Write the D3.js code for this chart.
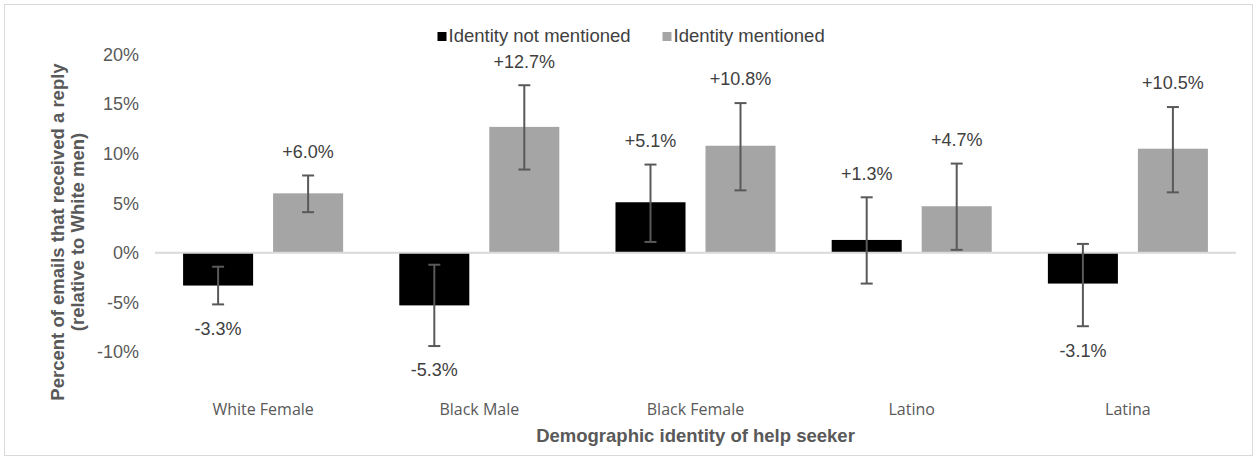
<!DOCTYPE html>
<html>
<head>
<meta charset="utf-8">
<script src="https://cdn.jsdelivr.net/npm/d3@7/dist/d3.min.js"></script>
<style>
  html, body { margin: 0; padding: 0; background: #fff; }
  svg { display: block; }
</style>
</head>
<body>
<svg id="chart" width="1257" height="460"></svg>
<script>
// Reply-rate differences relative to White men, by help-seeker identity
const categories = ["White Female", "Black Male", "Black Female", "Latino", "Latina"];
const seriesNames = ["Identity not mentioned", "Identity mentioned"];
const notMentioned = [-3.3, -5.3, 5.1, 1.3, -3.1];
const mentioned = [6.0, 12.7, 10.8, 4.7, 10.5];
// 95% interval bounds for each bar
const notMentionedLow = [-5.2, -9.4, 1.1, -3.1, -7.4];
const notMentionedHigh = [-1.4, -1.2, 8.9, 5.6, 0.9];
const mentionedLow = [4.1, 8.4, 6.3, 0.3, 6.1];
const mentionedHigh = [7.8, 16.9, 15.1, 9.0, 14.7];
const yTicks = [-10, -5, 0, 5, 10, 15, 20];

const seriesValues = [notMentioned, mentioned];
const seriesLow = [notMentionedLow, mentionedLow];
const seriesHigh = [notMentionedHigh, mentionedHigh];
const seriesColors = ["#000000", "#a5a5a5"];

const svg = d3.select("#chart");
const W = 1257, H = 460;
const plot = { left: 155, right: 1236, top: 54.5, bottom: 352 };
const sans = "Liberation Sans, Arial, Helvetica, sans-serif";

// outer frame
svg.append("rect")
  .attr("x", 4.5).attr("y", 4.5)
  .attr("width", W - 9).attr("height", H - 9)
  .attr("fill", "#fff").attr("stroke", "#d9d9d9").attr("stroke-width", 1);

const x0 = d3.scaleBand().domain(categories).range([plot.left, plot.right]).padding(0);
const x1 = d3.scaleBand().domain(seriesNames).range([0, x0.bandwidth()])
  .paddingInner(0.222).paddingOuter(0.312);
const y = d3.scaleLinear().domain([-10, 20]).range([plot.bottom, plot.top]);

const rows = [];
categories.forEach((c, i) => {
  seriesNames.forEach((s, j) => {
    rows.push({ cat: c, series: s, j, value: seriesValues[j][i], lo: seriesLow[j][i], hi: seriesHigh[j][i] });
  });
});

// y axis tick labels
const yAxis = d3.axisLeft(y).tickValues(yTicks).tickFormat(d => d + "%").tickSize(0).tickPadding(0);
const yg = svg.append("g").attr("transform", `translate(${plot.left - 16},0)`).call(yAxis);
yg.select(".domain").remove();
yg.selectAll("text")
  .attr("fill", "#595959")
  .style("font-family", sans)
  .style("font-size", "18px");

// bars
svg.append("g").selectAll("rect").data(rows).join("rect")
  .attr("x", d => x0(d.cat) + x1(d.series))
  .attr("width", x1.bandwidth())
  .attr("y", d => y(Math.max(0, d.value)))
  .attr("height", d => Math.abs(y(d.value) - y(0)))
  .attr("fill", d => seriesColors[d.j]);

// zero line
svg.append("line")
  .attr("x1", plot.left).attr("x2", plot.right)
  .attr("y1", y(0)).attr("y2", y(0))
  .attr("stroke", "#d9d9d9").attr("stroke-width", 2);

// error bars
const eg = svg.append("g").attr("stroke", "#595959").attr("stroke-width", 2);
rows.forEach(d => {
  const cx = x0(d.cat) + x1(d.series) + x1.bandwidth() / 2;
  eg.append("line").attr("x1", cx).attr("x2", cx).attr("y1", y(d.lo)).attr("y2", y(d.hi));
  [d.lo, d.hi].forEach(v => {
    eg.append("line").attr("x1", cx - 6).attr("x2", cx + 6).attr("y1", y(v)).attr("y2", y(v));
  });
});

// value labels beyond the error bar ends
const fmt = v => (v > 0 ? "+" : "") + v.toFixed(1) + "%";
svg.append("g").selectAll("text").data(rows).join("text")
  .attr("x", d => x0(d.cat) + x1(d.series) + x1.bandwidth() / 2)
  .attr("y", d => d.value >= 0 ? y(d.hi) - 24 : y(d.lo) + 24)
  .attr("dy", "0.35em")
  .attr("text-anchor", "middle")
  .attr("fill", "#404040")
  .style("font-family", sans)
  .style("font-size", "18px")
  .text(d => fmt(d.value));

// category labels
svg.append("g").selectAll("text").data(categories).join("text")
  .attr("x", d => x0(d) + x0.bandwidth() / 2)
  .attr("y", 409)
  .attr("dy", "0.35em")
  .attr("text-anchor", "middle")
  .attr("fill", "#595959")
  .style("font-family", "Open Sans, sans-serif")
  .style("font-size", "16px")
  .text(d => d);

// x axis title
svg.append("text")
  .attr("x", (plot.left + plot.right) / 2).attr("y", 436)
  .attr("dy", "0.35em").attr("text-anchor", "middle")
  .attr("fill", "#595959")
  .style("font-family", sans)
  .style("font-size", "18.5px").style("font-weight", "bold")
  .text("Demographic identity of help seeker");

// y axis title (two lines)
const yt = svg.append("text")
  .attr("transform", "translate(0,232) rotate(-90)")
  .attr("text-anchor", "middle")
  .attr("fill", "#595959")
  .style("font-family", sans)
  .style("font-size", "18.5px").style("font-weight", "bold");
yt.append("tspan").attr("x", 0).attr("y", 64).text("Percent of emails that received a reply");
yt.append("tspan").attr("x", 0).attr("y", 84).text("(relative to White men)");

// legend
const legendX = [437.5, 662.5];
const lg = svg.append("g");
seriesNames.forEach((s, j) => {
  lg.append("rect").attr("x", legendX[j]).attr("y", 32).attr("width", 9).attr("height", 9)
    .attr("fill", seriesColors[j]);
  lg.append("text").attr("x", legendX[j] + 11).attr("y", 36).attr("dy", "0.35em")
    .attr("fill", "#404040")
    .style("font-family", sans)
    .style("font-size", "18.5px")
    .text(s);
});
</script>
</body>
</html>
